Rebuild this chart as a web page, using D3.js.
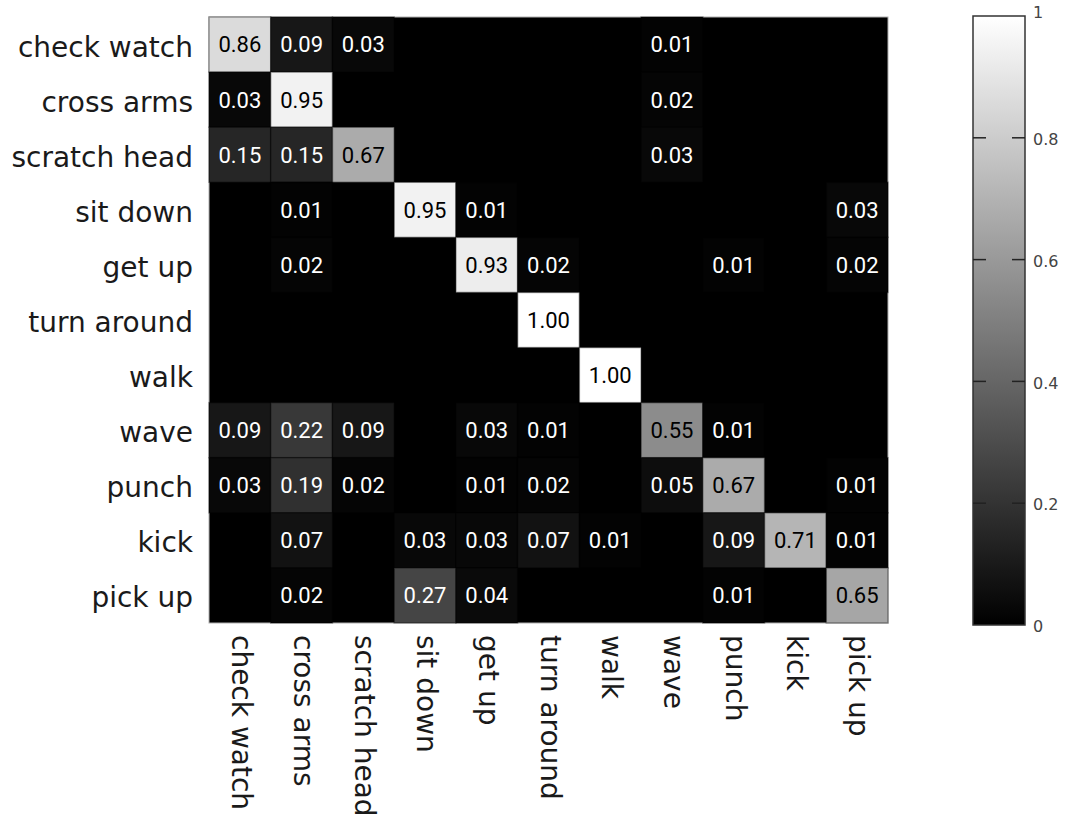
<!DOCTYPE html>
<html>
<head>
<meta charset="utf-8">
<script src="https://cdn.jsdelivr.net/npm/d3@7"></script>
<style>
  body { margin: 0; background: #fff; }
  svg { display: block; }
</style>
</head>
<body>
<div id="chart"></div>
<script>
// action classes (rows = true, columns = predicted)
const actions = ["check watch", "cross arms", "scratch head", "sit down", "get up",
    "turn around", "walk", "wave", "punch", "kick", "pick up"];

// confusion matrix, null = empty cell
const confusion = [
    [0.86, 0.09, 0.03, null, null, null, null, 0.01, null, null, null],
    [0.03, 0.95, null, null, null, null, null, 0.02, null, null, null],
    [0.15, 0.15, 0.67, null, null, null, null, 0.03, null, null, null],
    [null, 0.01, null, 0.95, 0.01, null, null, null, null, null, 0.03],
    [null, 0.02, null, null, 0.93, 0.02, null, null, 0.01, null, 0.02],
    [null, null, null, null, null, 1.00, null, null, null, null, null],
    [null, null, null, null, null, null, 1.00, null, null, null, null],
    [0.09, 0.22, 0.09, null, 0.03, 0.01, null, 0.55, 0.01, null, null],
    [0.03, 0.19, 0.02, null, 0.01, 0.02, null, 0.05, 0.67, null, 0.01],
    [null, 0.07, null, 0.03, 0.03, 0.07, 0.01, null, 0.09, 0.71, 0.01],
    [null, 0.02, null, 0.27, 0.04, null, null, null, 0.01, null, 0.65]
];

const colorTicks = [0, 0.2, 0.4, 0.6, 0.8, 1];
const colorTickLabels = ["0", "0.2", "0.4", "0.6", "0.8", "1"];

const W = 1070, H = 816;
const plot = { left: 209, top: 17, right: 888, bottom: 623 };
const bar = { left: 973, right: 1025, top: 16, bottom: 625 };

const svg = d3.select("#chart")
    .append("svg")
    .attr("width", W)
    .attr("height", H);

const x = d3.scaleBand()
    .domain(actions)
    .range([plot.left, plot.right]);
const y = d3.scaleBand()
    .domain(actions)
    .range([plot.top, plot.bottom]);

const color = d3.scaleLinear()
    .domain([0, 1])
    .range(["#000000", "#ffffff"]);

// background (zero cells)
svg.append("rect")
    .attr("x", plot.left)
    .attr("y", plot.top)
    .attr("width", plot.right - plot.left)
    .attr("height", plot.bottom - plot.top)
    .attr("fill", "#000")
    .attr("stroke", "#b0b0b0")
    .attr("stroke-width", 1);

const cells = [];
confusion.forEach((row, i) => {
    row.forEach((v, j) => {
        if (v !== null) cells.push({ row: actions[i], col: actions[j], v });
    });
});

svg.append("g")
    .selectAll("rect")
    .data(cells)
    .enter()
    .append("rect")
    .attr("x", d => x(d.col))
    .attr("y", d => y(d.row))
    .attr("width", x.bandwidth())
    .attr("height", y.bandwidth())
    .attr("fill", d => color(d.v))
    .attr("stroke", "rgba(0,0,0,0.35)")
    .attr("stroke-width", 1.5);

svg.append("g")
    .selectAll("text")
    .data(cells)
    .enter()
    .append("text")
    .attr("x", d => x(d.col) + x.bandwidth() / 2)
    .attr("y", d => y(d.row) + y.bandwidth() / 2)
    .attr("text-anchor", "middle")
    .attr("dy", "0.36em")
    .style("font-family", "Roboto, sans-serif")
    .style("font-size", "22px")
    .attr("fill", d => d.v >= 0.5 ? "#000" : "#fff")
    .text(d => d.v.toFixed(2));

// row labels
svg.append("g")
    .selectAll("text")
    .data(actions)
    .enter()
    .append("text")
    .attr("x", plot.left - 16)
    .attr("y", d => y(d) + y.bandwidth() / 2 + 12)
    .attr("text-anchor", "end")
    .style("font-family", "'DejaVu Sans', sans-serif")
    .style("font-size", "28px")
    .attr("fill", "#1a1a1a")
    .text(d => d);

// column labels, rotated
svg.append("g")
    .selectAll("text")
    .data(actions)
    .enter()
    .append("text")
    .attr("transform", d => `translate(${x(d) + x.bandwidth() / 2 - 8},${plot.bottom + 12}) rotate(90)`)
    .attr("text-anchor", "start")
    .style("font-family", "'DejaVu Sans', sans-serif")
    .style("font-size", "28px")
    .attr("fill", "#1a1a1a")
    .text(d => d);

// colorbar
const cy = d3.scaleLinear()
    .domain([0, 1])
    .range([bar.bottom, bar.top]);

const grad = svg.append("defs")
    .append("linearGradient")
    .attr("id", "cbar")
    .attr("x1", 0).attr("y1", 1)
    .attr("x2", 0).attr("y2", 0);
grad.append("stop").attr("offset", "0%").attr("stop-color", color(0));
grad.append("stop").attr("offset", "100%").attr("stop-color", color(1));

svg.append("rect")
    .attr("x", bar.left)
    .attr("y", cy(1))
    .attr("width", bar.right - bar.left)
    .attr("height", cy(0) - cy(1))
    .attr("fill", "url(#cbar)")
    .attr("stroke", "#333")
    .attr("stroke-width", 1.5);

const inner = colorTicks.filter(t => t > 0 && t < 1);
svg.append("g")
    .selectAll("line")
    .data(inner)
    .enter()
    .append("line")
    .attr("x1", bar.left)
    .attr("x2", bar.left + 13)
    .attr("y1", d => cy(d))
    .attr("y2", d => cy(d))
    .attr("stroke", "#222")
    .attr("stroke-width", 1.5);
svg.append("g")
    .selectAll("line")
    .data(inner)
    .enter()
    .append("line")
    .attr("x1", bar.right - 13)
    .attr("x2", bar.right)
    .attr("y1", d => cy(d))
    .attr("y2", d => cy(d))
    .attr("stroke", "#222")
    .attr("stroke-width", 1.5);

svg.append("g")
    .selectAll("text")
    .data(colorTicks)
    .enter()
    .append("text")
    .attr("x", bar.right + 8)
    .attr("y", d => cy(d))
    .attr("dy", (d, i) => i === colorTicks.length - 1 ? "0.1em" : "0.45em")
    .style("font-family", "'DejaVu Sans', sans-serif")
    .style("font-size", "16px")
    .attr("fill", "#444")
    .text((d, i) => colorTickLabels[i]);
</script>
</body>
</html>
